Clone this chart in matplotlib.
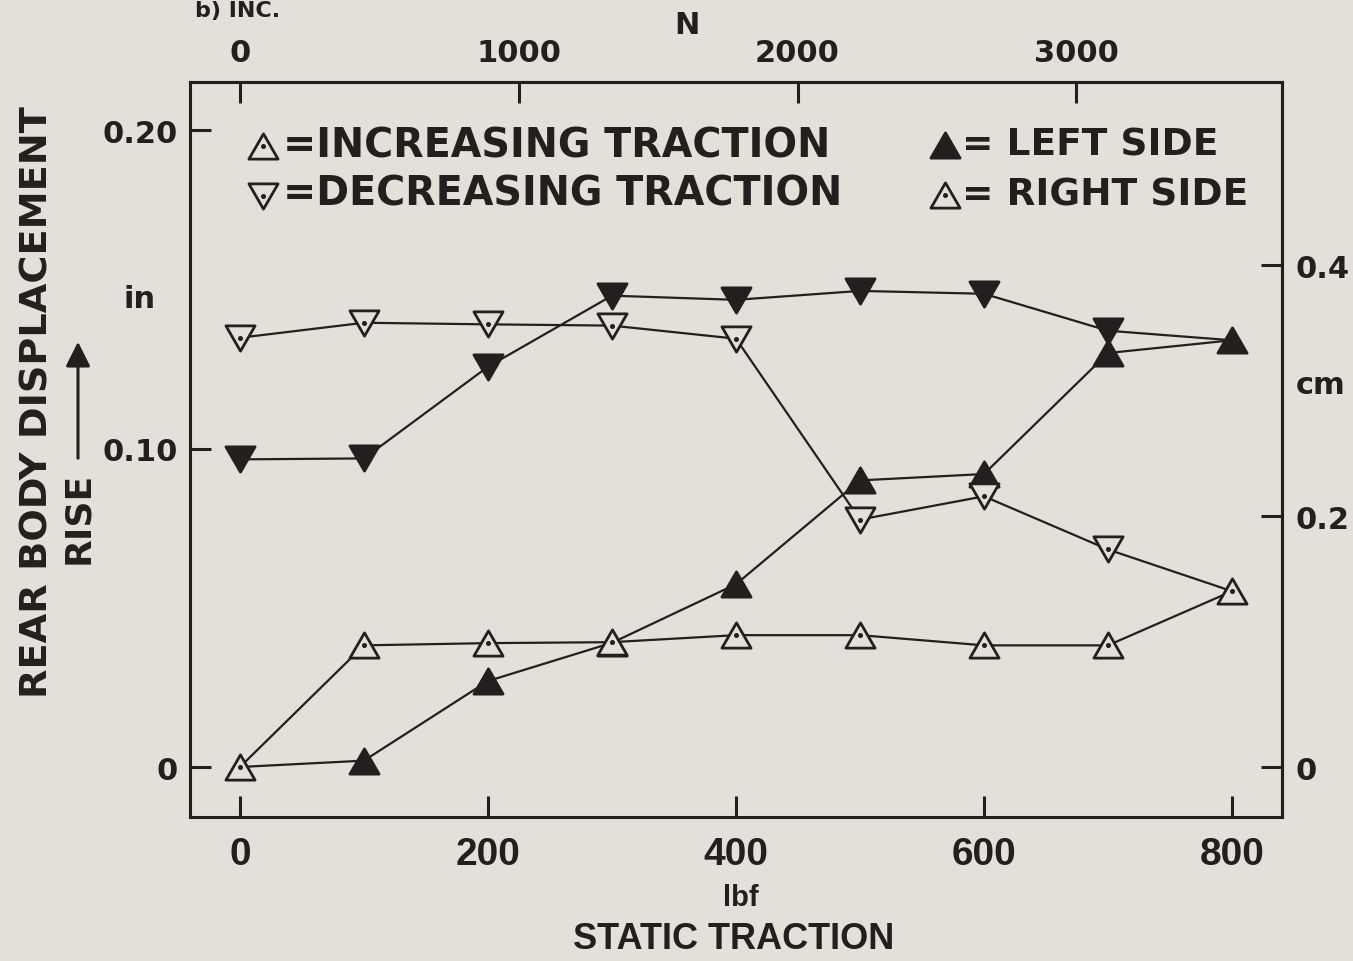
import matplotlib

matplotlib.use("Agg")

import matplotlib.pyplot as plt  # noqa: E402
from matplotlib.path import Path  # noqa: E402

INK = "#231f1f"
PAPER = "#e3e0d9"
BOLD = ["DejaVu Sans", "Liberation Sans"]
NARROW = ["Liberation Sans Narrow", "DejaVu Sans Condensed", "Liberation Sans"]

# ---------------------------------------------------------------------------
# Measurements: rear body rise (in) against static traction (lbf)
# ---------------------------------------------------------------------------

traction_lbf = [0, 100, 200, 300, 400, 500, 600, 700, 800]

left_increasing = [0.0, 0.002, 0.027, 0.039, 0.0574, 0.090, 0.092, 0.130, 0.134]
right_increasing = [0.0, 0.0382, 0.0389, 0.0392, 0.0414, 0.0414, 0.0382, 0.0382, 0.0552]

# decreasing runs start from the 800 lbf reading of the increasing runs
left_decreasing = [0.0966, 0.0969, 0.1257, 0.148, 0.1467, 0.1495, 0.1486, 0.137, 0.134]
right_decreasing = [0.1348, 0.1395, 0.139, 0.1386, 0.1345, 0.0777, 0.085, 0.0683, 0.0552]

x_ticks_lbf = [0, 200, 400, 600, 800]
x_tick_labels = ["0", "200", "400", "600", "800"]
y_ticks_in = [0.0, 0.10, 0.20]
y_tick_labels = ["0", "0.10", "0.20"]
top_ticks_n = [0, 1000, 2000, 3000]
top_tick_labels = ["0", "1000", "2000", "3000"]
right_ticks_cm = [0.0, 0.2, 0.4]
right_tick_labels = ["0", "0.2", "0.4"]

N_PER_LBF = 4.44822
CM_PER_IN = 2.54

# equilateral-ish triangles centred on the data point
TRI_UP = Path([(-1, -0.866), (1, -0.866), (0, 0.866), (-1, -0.866)],
              [Path.MOVETO, Path.LINETO, Path.LINETO, Path.CLOSEPOLY])
TRI_DOWN = Path([(-1, 0.866), (1, 0.866), (0, -0.866), (-1, 0.866)],
                [Path.MOVETO, Path.LINETO, Path.LINETO, Path.CLOSEPOLY])

MS = 21


def px(x, y):
    """Figure pixel position (from top-left) to figure fraction."""
    return x / 1353, 1 - y / 962


def draw_series(ax, y, marker, filled, markevery=None):
    ax.plot(traction_lbf, y, color=INK, lw=1.6, zorder=2)
    ax.plot(traction_lbf, y, ls="none", marker=marker, ms=MS,
            mfc=INK if filled else PAPER, mec=INK, mew=2.0,
            markevery=markevery, zorder=3)
    if not filled:
        ax.plot(traction_lbf, y, ls="none", marker="o", ms=2.6,
                color=INK, markevery=markevery, zorder=4)


def style_labels(labels, family, size):
    for lab in labels:
        lab.set_fontfamily(family)
        lab.set_fontweight("bold")
        lab.set_fontsize(size)
        lab.set_color(INK)


fig = plt.figure(figsize=(13.53, 9.62), dpi=100, facecolor=PAPER)
l, b = px(190, 818)
r, t = px(1282, 83)
ax = fig.add_axes([l, b, r - l, t - b])
ax.set_facecolor(PAPER)
ax.set_xlim(-40.3, 840.3)
ax.set_ylim(-0.0157, 0.2151)

for spine in ax.spines.values():
    spine.set_color(INK)
    spine.set_linewidth(2.2)

draw_series(ax, left_increasing, TRI_UP, True, markevery=slice(1, 9))
draw_series(ax, left_decreasing, TRI_DOWN, True, markevery=slice(0, 8))
draw_series(ax, right_decreasing, TRI_DOWN, False, markevery=slice(0, 8))
draw_series(ax, right_increasing, TRI_UP, False)

# bottom / left axes
ax.set_xticks(x_ticks_lbf)
ax.set_xticklabels(x_tick_labels)
ax.set_yticks(y_ticks_in)
ax.set_yticklabels(y_tick_labels)
ax.tick_params(axis="x", direction="in", length=15, width=2.2, color=INK, pad=14)
ax.tick_params(axis="y", direction="in", length=15, width=2.2, color=INK, pad=9)
style_labels(ax.get_xticklabels(), NARROW, 28)
style_labels(ax.get_yticklabels(), BOLD, 22)

# top axis in newtons
top = ax.secondary_xaxis("top", functions=(lambda v: v * N_PER_LBF,
                                           lambda v: v / N_PER_LBF))
top.set_xticks(top_ticks_n)
top.set_xticklabels(top_tick_labels)
top.tick_params(direction="in", length=15, width=2.2, color=INK, pad=11)
top.spines["top"].set_linewidth(2.2)
top.spines["top"].set_color(INK)
style_labels(top.get_xticklabels(), BOLD, 22)

# right axis in centimetres
right = ax.secondary_yaxis("right", functions=(lambda v: v * CM_PER_IN,
                                               lambda v: v / CM_PER_IN))
right.set_yticks(right_ticks_cm)
right.set_yticklabels(right_tick_labels)
right.tick_params(direction="in", length=15, width=2.2, color=INK, pad=10)
right.spines["right"].set_linewidth(2.2)
right.spines["right"].set_color(INK)
style_labels(right.get_yticklabels(), BOLD, 22)

# key, drawn inside the frame
key_marks = [
    (263, 147, TRI_UP, False),
    (263, 197, TRI_DOWN, False),
    (945, 146, TRI_UP, True),
    (945, 196, TRI_UP, False),
]
key_text = [
    (283, 147, "=INCREASING TRACTION", 28.5),
    (283, 195, "=DECREASING TRACTION", 28.5),
    (962, 146, "= LEFT SIDE", 27),
    (962, 196, "= RIGHT SIDE", 27),
]
for x, y, marker, filled in key_marks:
    fx, fy = px(x, y)
    fig.lines.append(plt.Line2D([fx], [fy], transform=fig.transFigure,
                                ls="none", marker=marker, ms=21,
                                mfc=INK if filled else PAPER, mec=INK, mew=2.0))
    if not filled:
        fig.lines.append(plt.Line2D([fx], [fy], transform=fig.transFigure,
                                    ls="none", marker="o", ms=2.6, color=INK))
for x, y, s, size in key_text:
    fx, fy = px(x, y)
    fig.text(fx, fy, s, ha="left", va="center", fontsize=size,
             fontweight="bold", family=BOLD, color=INK)

# axis titles and units
fig.text(*px(38, 402), "REAR BODY DISPLACEMENT", rotation=90, ha="center",
         va="center", fontsize=27.5, fontweight="bold", family=BOLD, color=INK)
fig.text(*px(78, 518), "RISE", rotation=90, ha="center", va="center",
         fontsize=26, fontweight="bold", family=BOLD, color=INK)
fig.add_artist(matplotlib.patches.FancyArrowPatch(
    px(78, 462), px(78, 340), transform=fig.transFigure,
    arrowstyle="-|>,head_length=10,head_width=5", lw=2.2, color=INK,
    mutation_scale=1.5))
fig.text(*px(140, 300), "in", ha="center", va="center", fontsize=22,
         fontweight="bold", family=BOLD, color=INK)
fig.text(*px(1296, 385), "cm", ha="left", va="center", fontsize=22,
         fontweight="bold", family=BOLD, color=INK)
fig.text(*px(687, 25), "N", ha="center", va="center", fontsize=22,
         fontweight="bold", family=BOLD, color=INK)
fig.text(*px(741, 898), "lbf", ha="center", va="center", fontsize=21,
         fontweight="bold", family=NARROW, color=INK)
fig.text(*px(734, 940), "STATIC TRACTION", ha="center", va="center",
         fontsize=26, fontweight="bold", family=NARROW, color=INK)
fig.text(*px(195, 1), "b) INC.", ha="left", va="top", fontsize=16,
         fontweight="bold", family=BOLD, color=INK)

fig.savefig("out.png", dpi=100, facecolor=PAPER)
